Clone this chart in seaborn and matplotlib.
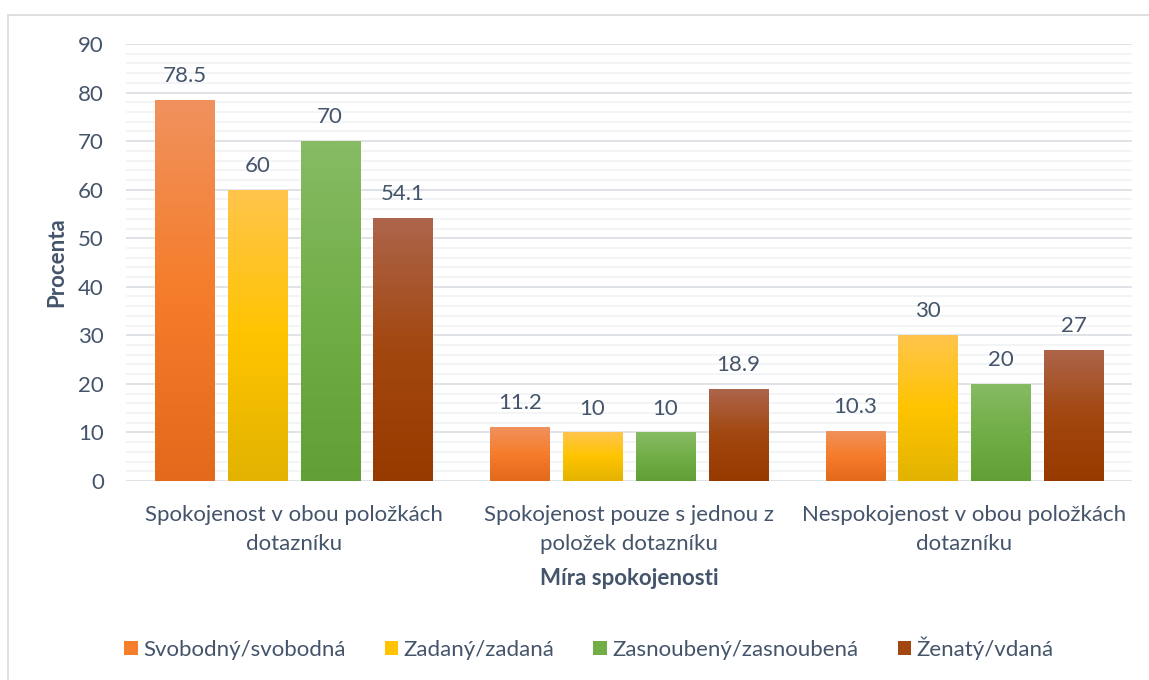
import matplotlib.pyplot as plt
import matplotlib.colors as mcolors
import numpy as np
import pandas as pd
import seaborn as sns
from matplotlib.patches import Patch, Rectangle

# Data
categories = ["Spokojenost v obou položkách\ndotazníku",
              "Spokojenost pouze s jednou z\npoložek dotazníku",
              "Nespokojenost v obou položkách\ndotazníku"]
groups = ["Svobodný/svobodná", "Zadaný/zadaná", "Zasnoubený/zasnoubená", "Ženatý/vdaná"]
svobodny = [78.5, 11.2, 10.3]
zadany = [60, 10, 30]
zasnoubeny = [70, 10, 20]
zenaty = [54.1, 18.9, 27]

# barvy: (nahore, stred, dole)
grad_colors = {
    "Svobodný/svobodná": ["#F0925E", "#F57D2B", "#E3691C"],
    "Zadaný/zadaná": ["#FFC54C", "#FFC400", "#E2B300"],
    "Zasnoubený/zasnoubená": ["#87BB64", "#71AE47", "#61A035"],
    "Ženatý/vdaná": ["#AD654B", "#A2470F", "#973A00"],
}
base_colors = {k: v[1] for k, v in grad_colors.items()}
text_col = "#44546A"
fs = 16

df = pd.DataFrame({
    "kategorie": categories * 4,
    "skupina": [g for g in groups for _ in categories],
    "hodnota": svobodny + zadany + zasnoubeny + zenaty,
})

sns.set_style("white")
plt.rcParams["font.family"] = ["Lato", "DejaVu Sans"]

fig = plt.figure(figsize=(11.49, 6.8), dpi=100)
ax = fig.add_axes([126 / 1149, 1 - 481 / 680, 1006 / 1149, 437 / 680])

sns.barplot(data=df, x="kategorie", y="hodnota", hue="skupina", order=categories,
            hue_order=groups, palette=base_colors, width=0.869, gap=0.19,
            legend=False, ax=ax, saturation=1)

# Gradienty v každém sloupci
ax.set_ylim(0, 90)
for container, g in zip(ax.containers, groups):
    cmap = mcolors.LinearSegmentedColormap.from_list(g, grad_colors[g][::-1])
    grad = np.linspace(0, 1, 256).reshape(-1, 1)
    for bar in container:
        x0, y0 = bar.get_x(), bar.get_y()
        w, h = bar.get_width(), bar.get_height()
        im = ax.imshow(grad, cmap=cmap, origin="lower", aspect="auto",
                       extent=[x0, x0 + w, y0, y0 + h], zorder=3)
        im.set_clip_path(bar)
    # popisky hodnot
    labels = [f"{v:g}" for v in container.datavalues]
    ax.bar_label(container, labels=labels, padding=10, fontsize=fs, color=text_col)

ax.set_xlim(-0.5, 2.5)
ax.set_ylim(0, 90)

# Mřížka
ax.set_yticks(np.arange(0, 91, 10))
ax.set_yticks(np.arange(0, 91, 2), minor=True)
ax.grid(axis="y", which="major", color="#D9DDE3", linewidth=1.2, zorder=0)
ax.grid(axis="y", which="minor", color="#F1F2F4", linewidth=1.2, zorder=0)
ax.set_axisbelow(True)
for s in ax.spines.values():
    s.set_visible(False)

ax.tick_params(axis="both", which="both", length=0, colors=text_col, labelsize=fs)
ax.tick_params(axis="y", pad=16)
ax.tick_params(axis="x", pad=17)
for t in ax.get_xticklabels():
    t.set_linespacing(1.6)

ax.set_ylabel("Procenta", fontsize=fs, fontweight="bold", color=text_col, labelpad=8)
ax.set_xlabel("Míra spokojenosti", fontsize=fs, fontweight="bold", color=text_col, labelpad=10)

# Legenda
handles = [Patch(facecolor=base_colors[g], edgecolor="none") for g in groups]
fig.legend(handles, groups, loc="center", bbox_to_anchor=(589 / 1149, 1 - 648 / 680),
           ncol=4, frameon=False, fontsize=fs, handlelength=0.62, handleheight=0.62,
           handletextpad=0.25, columnspacing=1.74, labelcolor=text_col)

# Rámeček grafu
fig.patches.append(Rectangle((8 / 1149, -0.1), 1.2, 1 - 15 / 680 + 0.1,
                             transform=fig.transFigure, fill=False,
                             edgecolor="#D9D9D9", linewidth=1.2))

fig.savefig("out.png", dpi=100)
